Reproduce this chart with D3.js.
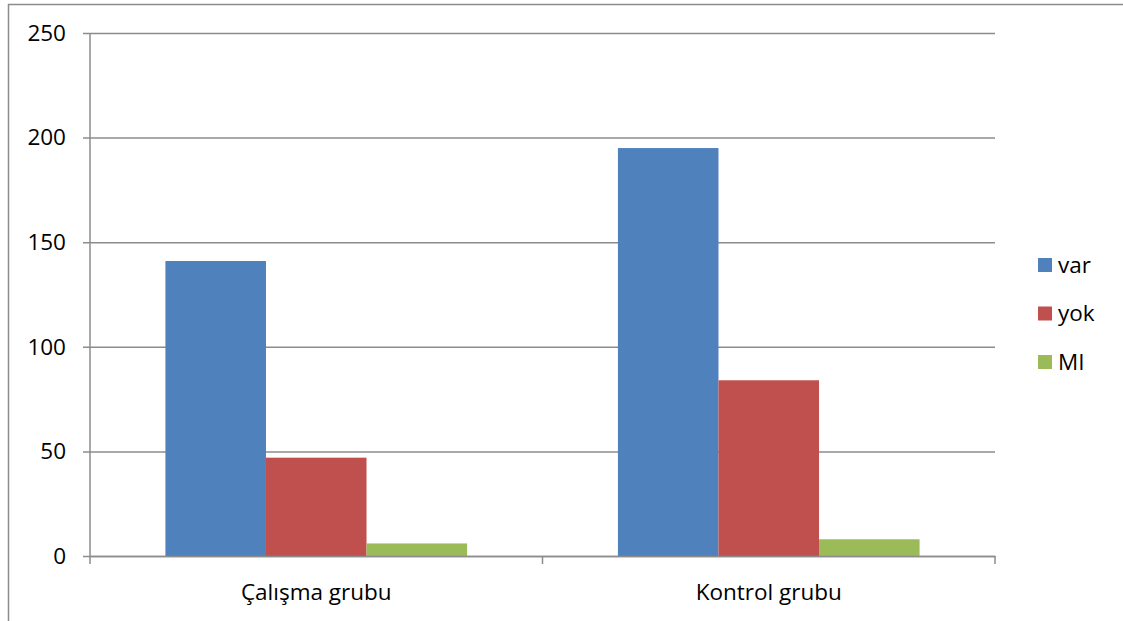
<!DOCTYPE html>
<html>
<head>
<meta charset="utf-8">
<script src="https://cdn.jsdelivr.net/npm/d3@7"></script>
<style>
  html, body { margin: 0; padding: 0; background: #fff; }
  svg { display: block; font-family: "Open Sans", Lato, sans-serif; }
</style>
</head>
<body>
<svg id="chart" width="1123" height="621"></svg>
<script>
// Chart data
const categories = ["Çalışma grubu", "Kontrol grubu"];
const seriesNames = ["var", "yok", "MI"];
const seriesColors = ["#4F81BD", "#C0504D", "#9BBB59"];
const varValues = [141, 195];
const yokValues = [47, 84];
const miValues = [6, 8];
const yTicks = [0, 50, 100, 150, 200, 250];

const seriesValues = [varValues, yokValues, miValues];
const FONT = "'Open Sans', Lato, sans-serif";
const FONT_SIZE = 22.5;

const svg = d3.select("#chart");
const plot = { left: 90, right: 995, top: 33, bottom: 556 };

// Frame around the chart area
svg.append("line").attr("x1", 8).attr("x2", 1123).attr("y1", 4.5).attr("y2", 4.5)
  .attr("stroke", "#8c8c8c").attr("stroke-width", 1.5);
svg.append("line").attr("x1", 8.5).attr("x2", 8.5).attr("y1", 4).attr("y2", 621)
  .attr("stroke", "#8c8c8c").attr("stroke-width", 1.5);

const y = d3.scaleLinear().domain([0, 250]).range([plot.bottom, plot.top]);
const x0 = d3.scaleBand().domain(categories).range([plot.left, plot.right]).padding(0);
const groupInset = x0.bandwidth() / 6;
const x1 = d3.scaleBand().domain(seriesNames)
  .range([groupInset, x0.bandwidth() - groupInset]).padding(0);

// Horizontal gridlines with short left ticks
const yAxis = d3.axisLeft(y).tickValues(yTicks)
  .tickSize(-(plot.right - plot.left)).tickPadding(18);
const gy = svg.append("g").attr("transform", `translate(${plot.left},0)`).call(yAxis);
gy.select(".domain").remove();
gy.selectAll(".tick line").attr("stroke", "#8c8c8c").attr("stroke-width", 1.5)
  .attr("x1", -7);
gy.selectAll(".tick text").attr("fill", "#000").attr("font-size", FONT_SIZE)
  .attr("font-family", FONT).attr("x", -24);

// Vertical axis line
svg.append("line").attr("x1", plot.left).attr("x2", plot.left)
  .attr("y1", plot.top).attr("y2", plot.bottom)
  .attr("stroke", "#8c8c8c").attr("stroke-width", 1.5);

// Bars
const groups = svg.append("g").selectAll("g").data(categories).join("g")
  .attr("transform", d => `translate(${x0(d)},0)`);
groups.selectAll("rect")
  .data((c, ci) => seriesNames.map((s, si) => ({ s, v: seriesValues[si][ci], color: seriesColors[si] })))
  .join("rect")
  .attr("x", d => x1(d.s))
  .attr("width", x1.bandwidth())
  .attr("y", d => y(d.v))
  .attr("height", d => y(0) - y(d.v))
  .attr("fill", d => d.color);

// Category axis
const xAxis = d3.axisBottom(x0).tickSize(0).tickPadding(28);
const gx = svg.append("g").attr("transform", `translate(0,${plot.bottom})`).call(xAxis);
gx.select(".domain").attr("stroke", "#8c8c8c").attr("stroke-width", 1.5);
gx.selectAll(".tick text").attr("fill", "#000").attr("font-size", FONT_SIZE)
  .attr("font-family", FONT);
const boundaries = [plot.left, plot.left + x0.bandwidth(), plot.right];
svg.append("g").selectAll("line").data(boundaries).join("line")
  .attr("x1", d => d).attr("x2", d => d)
  .attr("y1", plot.bottom).attr("y2", plot.bottom + 8)
  .attr("stroke", "#8c8c8c").attr("stroke-width", 1.5);

// Legend
const legend = svg.append("g").attr("transform", "translate(1038,258)");
const items = legend.selectAll("g").data(seriesNames).join("g")
  .attr("transform", (d, i) => `translate(0,${i * 48.5})`);
items.append("rect").attr("width", 14).attr("height", 14)
  .attr("fill", (d, i) => seriesColors[i]);
items.append("text").attr("x", 20).attr("y", 7).attr("dy", "0.35em")
  .attr("font-size", FONT_SIZE).attr("font-family", FONT).attr("fill", "#000").text(d => d);
</script>
</body>
</html>
